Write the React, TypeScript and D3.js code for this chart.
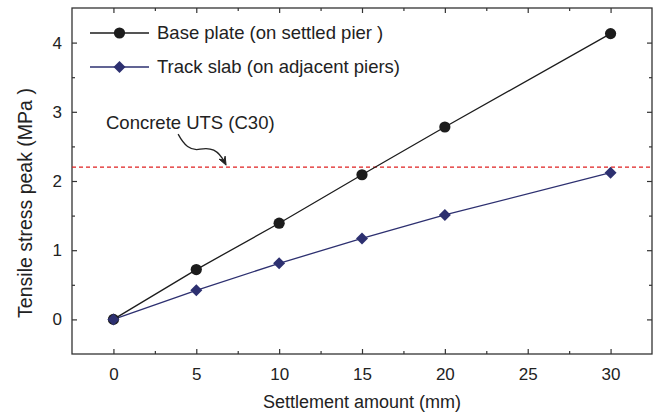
import React, { useEffect, useRef } from 'react';
import * as d3 from 'd3';

const settlement = [0, 5, 10, 15, 20, 30];
const basePlate = [0, 0.72, 1.39, 2.09, 2.78, 4.13];
const trackSlab = [0, 0.42, 0.81, 1.17, 1.51, 2.12];
const seriesNames = ['Base plate (on settled pier )', 'Track slab (on adjacent piers)'];
const xTicks = [0, 5, 10, 15, 20, 25, 30];
const xMinor = [2.5, 7.5, 12.5, 17.5, 22.5, 27.5];
const yTicks = [0, 1, 2, 3, 4];
const yMinor = [0.5, 1.5, 2.5, 3.5];
const utsValue = 2.2;
const utsLabel = 'Concrete UTS (C30)';

function App() {
  const ref = useRef<SVGSVGElement | null>(null);

  useEffect(() => {
    if (!ref.current) return;
    const width = 657;
    const height = 420;
    const margin = { top: 8, right: 5, bottom: 66, left: 72 };
    const font = 'Liberation Sans, Arial, Helvetica, sans-serif';
    const axisColor = '#333';

    const svg = d3.select(ref.current);
    svg.selectAll('*').remove();

    const x = d3.scaleLinear().domain([-2.5, 32.5]).range([margin.left, width - margin.right]);
    const y = d3.scaleLinear().domain([-0.5, 4.5]).range([height - margin.bottom, margin.top]);

    // frame
    svg.append('rect')
      .attr('x', margin.left)
      .attr('y', margin.top)
      .attr('width', width - margin.left - margin.right)
      .attr('height', height - margin.top - margin.bottom)
      .attr('fill', 'none')
      .attr('stroke', axisColor)
      .attr('stroke-width', 1.3);

    const styleAxis = (g: any) => {
      g.select('.domain').remove();
      g.selectAll('line').attr('stroke', axisColor).attr('stroke-width', 1.2);
      g.selectAll('text').attr('fill', '#222').style('font-family', font).style('font-size', '17px');
    };

    // bottom / top axes
    svg.append('g')
      .attr('transform', `translate(0,${y(-0.5)})`)
      .call(d3.axisBottom(x).tickValues(xTicks).tickSize(-5).tickPadding(14).tickFormat(d3.format('d')) as any)
      .call(styleAxis);
    svg.append('g')
      .attr('transform', `translate(0,${y(-0.5)})`)
      .call(d3.axisBottom(x).tickValues(xMinor).tickSize(-3).tickFormat(() => '') as any)
      .call(styleAxis);
    svg.append('g')
      .attr('transform', `translate(0,${y(4.5)})`)
      .call(d3.axisTop(x).tickValues(xTicks).tickSize(-5).tickFormat(() => '') as any)
      .call(styleAxis);
    svg.append('g')
      .attr('transform', `translate(0,${y(4.5)})`)
      .call(d3.axisTop(x).tickValues(xMinor).tickSize(-3).tickFormat(() => '') as any)
      .call(styleAxis);

    // left / right axes
    svg.append('g')
      .attr('transform', `translate(${x(-2.5)},0)`)
      .call(d3.axisLeft(y).tickValues(yTicks).tickSize(-5).tickPadding(10).tickFormat(d3.format('d')) as any)
      .call(styleAxis);
    svg.append('g')
      .attr('transform', `translate(${x(-2.5)},0)`)
      .call(d3.axisLeft(y).tickValues(yMinor).tickSize(-3).tickFormat(() => '') as any)
      .call(styleAxis);
    svg.append('g')
      .attr('transform', `translate(${x(32.5)},0)`)
      .call(d3.axisRight(y).tickValues(yTicks).tickSize(-5).tickFormat(() => '') as any)
      .call(styleAxis);
    svg.append('g')
      .attr('transform', `translate(${x(32.5)},0)`)
      .call(d3.axisRight(y).tickValues(yMinor).tickSize(-3).tickFormat(() => '') as any)
      .call(styleAxis);

    // axis titles
    svg.append('text')
      .attr('x', (x(-2.5) + x(32.5)) / 2)
      .attr('y', 408)
      .attr('text-anchor', 'middle')
      .style('font-family', font)
      .style('font-size', '18px')
      .attr('fill', '#222')
      .text('Settlement amount (mm)');
    svg.append('text')
      .attr('transform', `translate(32,${(y(-0.5) + y(4.5)) / 2 + 22}) rotate(-90)`)
      .attr('text-anchor', 'middle')
      .style('font-family', font)
      .style('font-size', '19.5px')
      .attr('fill', '#222')
      .text('Tensile stress peak (MPa )');

    // UTS dashed line
    svg.append('line')
      .attr('x1', x(-2.5))
      .attr('x2', x(32.5))
      .attr('y1', y(utsValue))
      .attr('y2', y(utsValue))
      .attr('stroke', '#e02020')
      .attr('stroke-width', 1.1)
      .attr('stroke-dasharray', '4,3');

    // annotation + curly arrow
    svg.append('text')
      .attr('x', 106)
      .attr('y', 129)
      .style('font-family', font)
      .style('font-size', '18.5px')
      .attr('fill', '#222')
      .text(utsLabel);
    const tx = x(6.8);
    const ty = y(utsValue) - 2;
    svg.append('path')
      .attr('d', `M${tx - 48},${ty - 31} C${tx - 42},${ty - 20} ${tx - 36},${ty - 14} ${tx - 26},${ty - 16} C${tx - 16},${ty - 18} ${tx - 8},${ty - 16} ${tx - 1},${ty - 2}`)
      .attr('fill', 'none')
      .attr('stroke', '#222')
      .attr('stroke-width', 1.3);
    svg.append('path')
      .attr('d', `M${tx},${ty} L${tx - 7},${ty - 6} L${tx - 2},${ty - 5} L${tx - 1},${ty - 9} Z`)
      .attr('fill', '#222')
      .attr('stroke', '#222')
      .attr('stroke-width', 1);

    const baseData = settlement.map((s, i) => [s, basePlate[i]] as [number, number]);
    const slabData = settlement.map((s, i) => [s, trackSlab[i]] as [number, number]);
    const line = d3.line<[number, number]>().x(d => x(d[0])).y(d => y(d[1]));
    const black = '#1c1c1c';
    const navy = '#2d3070';
    const diamond = d3.symbol().type(d3.symbolSquare).size(72);

    svg.append('path').attr('d', line(baseData)).attr('fill', 'none').attr('stroke', black).attr('stroke-width', 1.3);
    svg.append('path').attr('d', line(slabData)).attr('fill', 'none').attr('stroke', navy).attr('stroke-width', 1.3);

    svg.selectAll('circle.base')
      .data(baseData)
      .join('circle')
      .attr('class', 'base')
      .attr('cx', d => x(d[0]))
      .attr('cy', d => y(d[1]))
      .attr('r', 5.6)
      .attr('fill', black);

    svg.selectAll('path.slab')
      .data(slabData)
      .join('path')
      .attr('class', 'slab')
      .attr('d', diamond() as string)
      .attr('transform', d => `translate(${x(d[0])},${y(d[1])}) rotate(45)`)
      .attr('fill', navy);

    // legend
    const legend = [
      { name: seriesNames[0], color: black, marker: 'circle' },
      { name: seriesNames[1], color: navy, marker: 'diamond' },
    ];
    legend.forEach((l, i) => {
      const ly = 33 + i * 34;
      const g = svg.append('g');
      g.append('line').attr('x1', 90).attr('x2', 149).attr('y1', ly).attr('y2', ly)
        .attr('stroke', l.color).attr('stroke-width', 1.3);
      if (l.marker === 'circle') {
        g.append('circle').attr('cx', 119.5).attr('cy', ly).attr('r', 5.6).attr('fill', l.color);
      } else {
        g.append('path').attr('d', diamond() as string)
          .attr('transform', `translate(119.5,${ly}) rotate(45)`).attr('fill', l.color);
      }
      g.append('text')
        .attr('x', 157)
        .attr('y', ly)
        .attr('dy', '0.35em')
        .style('font-family', font)
        .style('font-size', '18.5px')
        .attr('fill', '#222')
        .text(l.name);
    });
  }, []);

  return (
    <svg
      ref={ref}
      width={657}
      height={420}
      style={{ position: 'absolute', left: 0, top: 0, background: '#fff' }}
    ></svg>
  );
}

export default App;
